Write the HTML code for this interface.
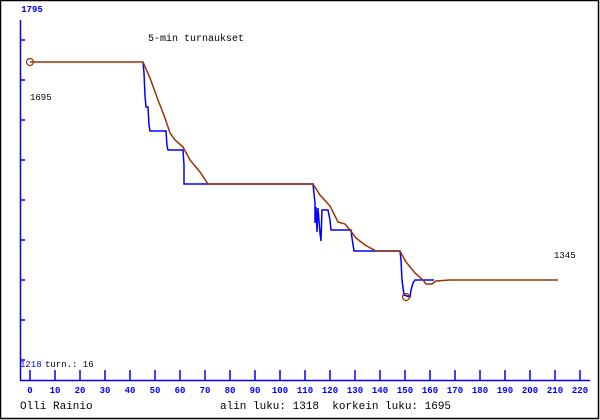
<!DOCTYPE html>
<html><head><style>
body{margin:0;background:#fff}
svg{display:block}
text{font-family:"Liberation Mono","DejaVu Sans Mono",monospace;white-space:pre}
</style></head><body>
<svg width="600" height="420" viewBox="0 0 600 420">
<rect x="0.5" y="0.5" width="598" height="418" fill="#fff" stroke="#000" stroke-width="1.5"/>
<g stroke="#0000ff" stroke-width="1.5" fill="none">
<line x1="20.5" y1="20" x2="20.5" y2="380"/>
<line x1="20" y1="380.5" x2="590" y2="380.5"/>
<path d="M20 40h5M20 80h5M20 120h5M20 160h5M20 200h5M20 240h5M20 280h5M20 320h5M20 360h5"/>
<path d="M30 370v10M55 370v10M80 370v10M105 370v10M130 370v10M155 370v10M180 370v10M205 370v10M230 370v10M255 370v10M280 370v10M305 370v10M330 370v10M355 370v10M380 370v10M405 370v10M430 370v10M455 370v10M480 370v10M505 370v10M530 370v10M555 370v10M580 370v10"/>
</g>
<g fill="#0000ff" font-size="9" font-weight="bold" text-anchor="middle">
<text x="30" y="393">0</text><text x="55" y="393">10</text><text x="80" y="393">20</text><text x="105" y="393">30</text><text x="130" y="393">40</text><text x="155" y="393">50</text><text x="180" y="393">60</text><text x="205" y="393">70</text><text x="230" y="393">80</text><text x="255" y="393">90</text><text x="280" y="393">100</text><text x="305" y="393">110</text><text x="330" y="393">120</text><text x="355" y="393">130</text><text x="380" y="393">140</text><text x="405" y="393">150</text><text x="430" y="393">160</text><text x="455" y="393">170</text><text x="480" y="393">180</text><text x="505" y="393">190</text><text x="530" y="393">200</text><text x="555" y="393">210</text><text x="580" y="393">220</text>
<text x="32" y="12">1795</text>
<text x="20" y="367" text-anchor="start" font-weight="normal">1218</text>
</g>
<text x="45" y="367" font-size="9" fill="#000">turn.: 16</text>
<text x="30" y="100" font-size="9" fill="#000">1695</text>
<text x="554" y="258" font-size="9" fill="#000">1345</text>
<text x="148" y="41" font-size="10" fill="#000">5-min turnaukset</text>
<text x="20" y="409" font-size="11" fill="#000">Olli Rainio</text>
<text x="220" y="409" font-size="11" fill="#000">alin luku: 1318  korkein luku: 1695</text>
<polyline fill="none" stroke="#0000ff" stroke-width="1.5" points="143,62 144,73 145,96 146,107 148,107 149,125 150,131 166,131 167,146 168,150 183,150 184,165 184,184 313,184 315,203 315,223 316,207 317,232 318,208 320,233 321,241 322,210 328,210 330,220 331,230 351,230 352,238 354,251 400,251 401,260 402,280 404,295 410,297 411,290 413,283 415,280 434,280"/>
<polyline fill="none" stroke="#993300" stroke-width="1.5" points="30,62 143,62 150,78 158,100 165,118 170,133 175,140 183,147 190,160 200,172 208,184 313,184 320,195 330,206 338,222 345,224 350,230 356,238 365,245 376,251 400,251 406,262 415,273 423,280 426,284 432,284 436,281 450,280 558,280"/>
<circle cx="30" cy="62" r="3.5" fill="none" stroke="#993300" stroke-width="1.2"/>
<circle cx="406" cy="297" r="3.5" fill="none" stroke="#993300" stroke-width="1.2"/>
</svg>
</body></html>
